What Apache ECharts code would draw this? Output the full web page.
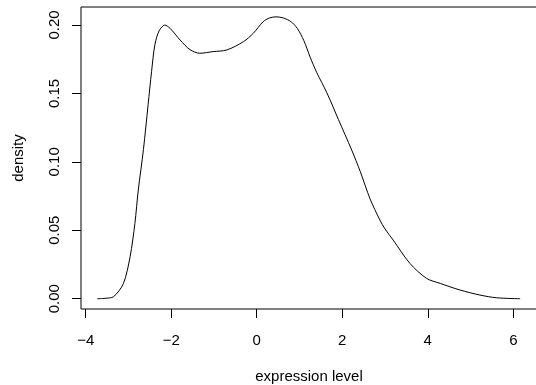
<!DOCTYPE html>
<html>
<head>
<meta charset="utf-8">
<script src="https://cdn.jsdelivr.net/npm/echarts@6/dist/echarts.min.js"></script>
<style>
  html, body { margin: 0; padding: 0; background: #fff; }
  #chart { width: 536px; height: 385px; }
</style>
</head>
<body>
<div id="chart"></div>
<script>
// density curve
const xs = [-3.73, -3.55, -3.35, -3.12, -2.96, -2.85, -2.77, -2.65, -2.54, -2.46, -2.38, -2.28, -2.15, -2.03,
  -1.79, -1.56, -1.33, -1.02, -0.70, -0.31, -0.08, 0.15, 0.30, 0.45, 0.62, 0.80, 0.95, 1.10, 1.25, 1.40, 1.64, 1.91,
  2.22, 2.42, 2.65, 2.88, 3.00, 3.19, 3.58, 3.97, 4.29, 4.75, 5.22, 5.61, 6.16]
const ys = [0.0, 0.0003, 0.0015, 0.011, 0.031, 0.055, 0.0795, 0.109, 0.142, 0.166, 0.186, 0.196, 0.200, 0.1977,
  0.189, 0.182, 0.1794, 0.1806, 0.1818, 0.1879, 0.194, 0.2025, 0.2052, 0.2060, 0.2052, 0.2025, 0.1975, 0.1887, 0.1765, 0.1655, 0.1505, 0.131,
  0.1087, 0.093, 0.073, 0.0575, 0.051, 0.0429, 0.0259, 0.0149, 0.0112, 0.0064, 0.0027, 0.0007, 0.0]
// tick range, like R's axis() which only spans the pretty values
const xTickMin = -4, xTickMax = 6, xStep = 2
const yTickMin = 0, yTickMax = 0.2, yStep = 0.05

const font = 'Liberation Sans'
const txt = {fontFamily: font, fontSize: 15, color: '#000'}
const black = {color: '#000', width: 1}

const chart = echarts.init(document.getElementById('chart'))
chart.setOption({
  animation: false,
  textStyle: {fontFamily: font, color: '#000'},
  grid: [
    // plot box (usr region)
    {left: 81, top: 7, right: -1, bottom: 76, show: true, borderColor: '#000', borderWidth: 1,
      containLabel: false, outerBoundsMode: 'none'},
    // tick range only
    {left: 85.7, top: 25, right: 22.7, bottom: 86.3, containLabel: false, outerBoundsMode: 'none'}
  ],
  xAxis: [{
    gridIndex: 0,
    type: 'value',
    min: -4.11, max: 6.554,
    name: 'expression level',
    nameLocation: 'middle',
    nameGap: 60,
    nameTextStyle: txt,
    splitLine: {show: false},
    axisLine: {show: false},
    axisTick: {show: false},
    axisLabel: {show: false}
  }, {
    gridIndex: 1,
    type: 'value',
    min: xTickMin, max: xTickMax, interval: xStep,
    offset: 10.3,
    splitLine: {show: false},
    axisLine: {show: false, onZero: false},
    axisTick: {show: true, length: 9, lineStyle: black},
    axisLabel: {
      margin: 24, ...txt,
      formatter: v => v < 0 ? '\u2212' + Math.abs(v) : String(v)
    }
  }],
  yAxis: [{
    gridIndex: 0,
    type: 'value',
    min: -0.0075, max: 0.2132,
    name: 'density',
    nameLocation: 'middle',
    nameGap: 55,
    nameTextStyle: txt,
    splitLine: {show: false},
    axisLine: {show: false},
    axisTick: {show: false},
    axisLabel: {show: false}
  }, {
    gridIndex: 1,
    type: 'value',
    min: yTickMin, max: yTickMax, interval: yStep,
    offset: 4.7,
    splitLine: {show: false},
    axisLine: {show: false, onZero: false},
    axisTick: {show: true, length: 9, lineStyle: black},
    axisLabel: {
      rotate: 90, margin: 19, ...txt,
      formatter: v => v.toFixed(2)
    }
  }],
  series: [{
    type: 'line',
    xAxisIndex: 0, yAxisIndex: 0,
    data: xs.map((x, i) => [x, ys[i]]),
    smooth: 0.3,
    showSymbol: false,
    lineStyle: {color: '#000', width: 1}
  }]
})
</script>
</body>
</html>
